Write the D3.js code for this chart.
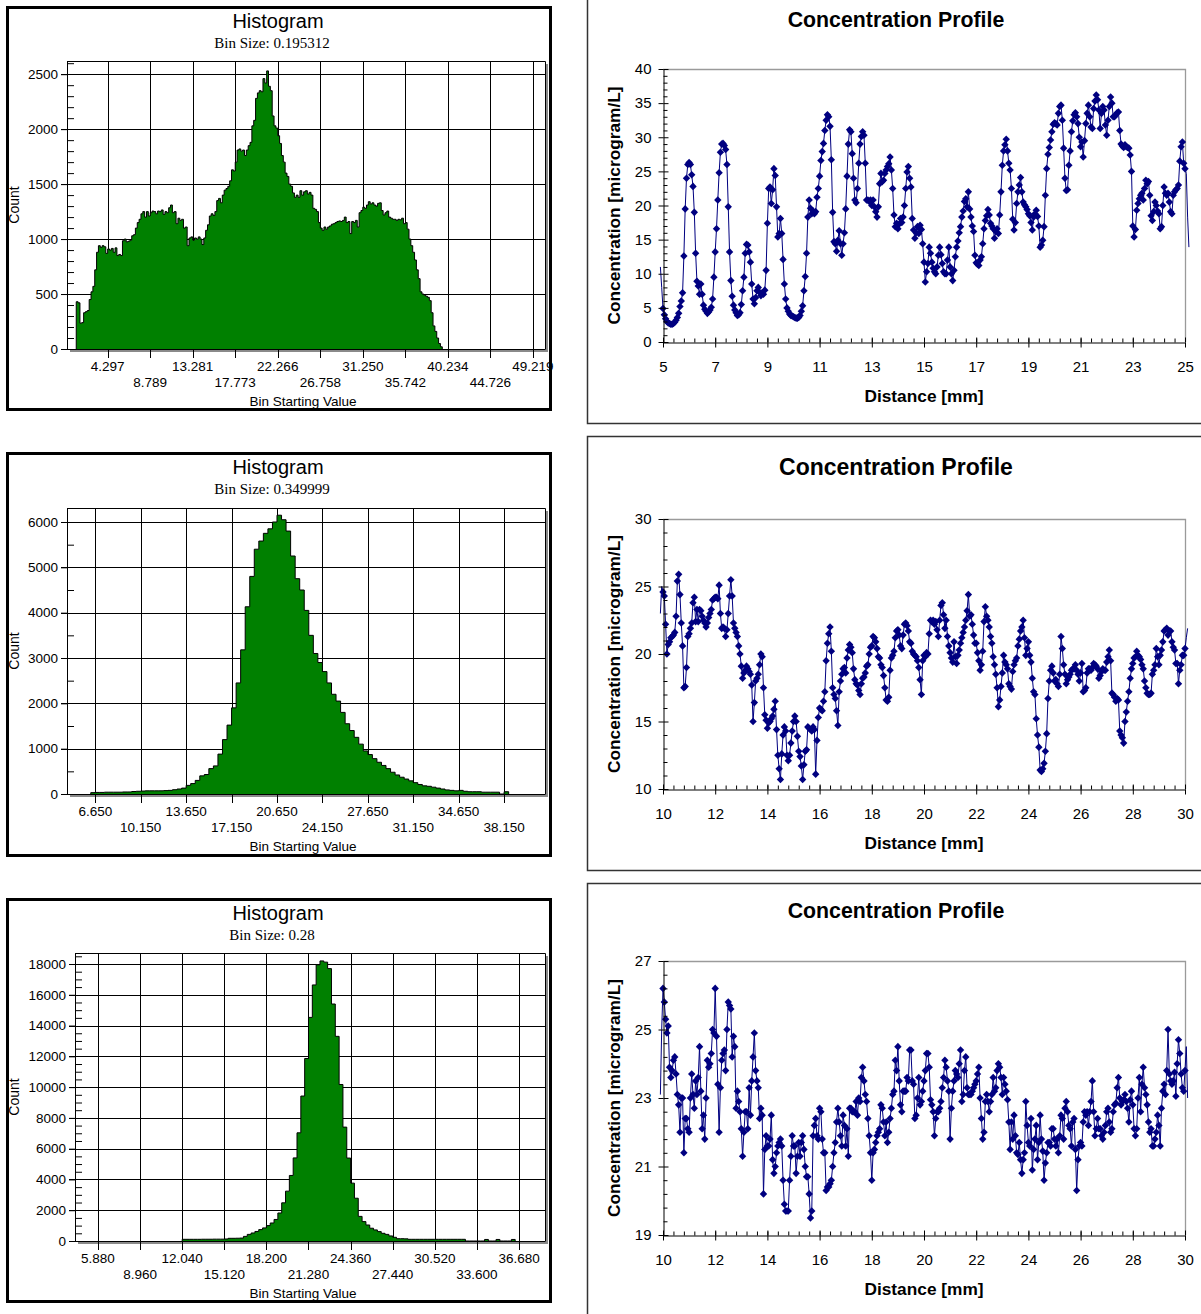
<!DOCTYPE html>
<html>
<head>
<meta charset="utf-8">
<script src="https://cdn.jsdelivr.net/npm/d3@7"></script>
<style>
  body { margin: 0; background: #fff; }
</style>
</head>
<body>
<script>
// ---------------- histogram data ----------------
// counts per bin, first bin index * bin size = first bin start
var hist1BinSize = 0.195312, hist1FirstBin = 5;
var hist1Counts = [
  430, 420, 235, 240, 330, 340, 350, 450, 520, 570,
  720, 880, 940, 925, 940, 930, 870, 910, 900, 915,
  880, 920, 850, 860, 850, 985, 1000, 975, 980, 990,
  1030, 1040, 1100, 1150, 1180, 1230, 1250, 1200, 1250, 1210,
  1240, 1255, 1250, 1230, 1255, 1250, 1265, 1225, 1250, 1240,
  1285, 1310, 1240, 1250, 1140, 1190, 1170, 1180, 1100, 1110,
  940, 1010, 1020, 990, 1010, 1000, 1020, 1000, 950, 1010,
  1080, 1130, 1210, 1230, 1215, 1250, 1350, 1370, 1330, 1400,
  1445, 1460, 1480, 1530, 1630, 1620, 1700, 1810, 1820, 1800,
  1810, 1760, 1810, 1850, 1880, 2030, 2080, 2280, 2330, 2350,
  2340, 2460, 2420, 2530, 2390, 2350, 2120, 2030, 2010, 1940,
  1870, 1760, 1700, 1600, 1570, 1500, 1480, 1420, 1380, 1400,
  1380, 1440, 1400, 1430, 1440, 1410, 1425, 1400, 1280, 1270,
  1250, 1150, 1100, 1080, 1110, 1090, 1110, 1120, 1135, 1140,
  1150, 1160, 1165, 1160, 1170, 1200, 1150, 1160, 1050, 1160,
  1150, 1170, 1110, 1240, 1260, 1290, 1280, 1310, 1340, 1320,
  1330, 1310, 1300, 1325, 1330, 1260, 1220, 1240, 1255, 1200,
  1190, 1180, 1180, 1170, 1180, 1175, 1190, 1140, 1150, 1090,
  1000, 940, 880, 810, 720, 640, 520, 500, 490, 480,
  470, 440, 330, 210, 160, 100, 50, 20
];
var hist1Ticks = ["4.297", "8.789", "13.281", "17.773", "22.266", "26.758", "31.250", "35.742", "40.234", "44.726", "49.219"];

var hist2BinSize = 0.349999, hist2FirstBin = 18;
var hist2Counts = [
  30, 35, 35, 40, 40, 40, 40, 45, 45, 55,
  60, 65, 70, 70, 70, 70, 75, 80, 95, 110,
  130, 190, 230, 300, 400, 430, 560, 620, 880, 1200,
  1520, 1900, 2450, 3180, 4130, 4800, 5400, 5580, 5750, 5850,
  6000, 6150, 6050, 5800, 5250, 4750, 4500, 4050, 3500, 3100,
  2900, 2700, 2450, 2200, 2050, 1800, 1550, 1400, 1250, 1100,
  950, 870, 780, 700, 630, 560, 480, 420, 370, 330,
  290, 250, 210, 180, 170, 150, 130, 110, 90, 80,
  70, 80, 60, 50, 50, 50, 40, 40, 40, 40, 0, 50
];
var hist2Ticks = ["6.650", "10.150", "13.650", "17.150", "20.650", "24.150", "27.650", "31.150", "34.650", "38.150"];

var hist3BinSize = 0.28, hist3FirstBin = 43;
var hist3Counts = [
  110, 110, 110, 110, 110, 115, 115, 115, 120, 120,
  120, 130, 175, 175, 180, 190,
  300, 430, 520, 620, 740, 850, 1000, 1170, 1400, 1820,
  2480, 3240, 4260, 5400, 7030, 9420, 11860, 14530, 16640, 17950,
  18200, 18120, 17700, 15400, 13300, 10170, 7400, 5390, 3760, 2780,
  1600, 1260, 1040, 830, 720, 610, 500, 430, 330, 240,
  150, 150, 140, 110, 110, 110, 110, 110, 110, 110,
  110, 110, 110, 110, 110, 110, 110, 110,
  0, 0, 0, 0, 0, 100, 0, 0, 100, 0, 0, 0, 100
];
var hist3Ticks = ["5.880", "8.960", "12.040", "15.120", "18.200", "21.280", "24.360", "27.440", "30.520", "33.600", "36.680"];

// ---------------- concentration profile data ----------------
// one value every 0.05 mm, first value at profNStart
var profStep = 0.05;
var prof1Start = 4.90;
var prof1Values = [
  11.0, 8.0,
  4.9, 4.0, 3.4, 3.0, 2.8, 2.7, 2.6, 2.6, 2.7, 2.9, 3.2, 3.6, 4.2, 5.2, 6.0, 7.2, 12.6, 19.5, 24.0, 26.0,
  26.3, 26.0, 24.5, 22.8, 19.0, 13.0, 8.9, 8.2, 7.0, 8.5, 7.0, 5.4, 4.8, 4.5, 4.2, 4.4, 4.7, 5.1, 6.3, 9.5,
  13.2, 16.6, 20.8, 24.8, 27.8, 29.0, 29.1, 28.8, 28.2, 26.0, 19.8, 13.2, 9.0, 6.7, 5.4, 4.7, 4.3, 3.9, 4.0, 4.3,
  5.5, 7.5, 9.5, 13.0, 14.3, 14.2, 13.2, 11.7, 8.5, 6.3, 5.6, 6.5, 7.5, 8.0, 7.3, 6.8, 7.2, 7.0, 7.6, 10.5,
  17.4, 22.5, 22.7, 20.3, 22.3, 25.4, 24.4, 19.8, 15.4, 15.9, 18.1, 15.9, 12.1, 8.5, 6.3, 5.0, 4.5, 4.1, 3.9, 3.8,
  3.7, 3.6, 3.5, 3.5, 3.6, 3.9, 4.5, 5.3, 7.5, 9.6, 13.0, 18.3, 20.8, 19.6, 18.8, 19.2, 18.8, 19.1, 21.2, 22.5,
  24.3, 26.6, 27.9, 29.1, 31.0, 32.5, 33.3, 33.0, 31.6, 26.7, 19.0, 14.7, 14.4, 13.3, 14.9, 16.3, 14.4, 12.7, 14.4, 16.0,
  19.5, 24.3, 29.0, 31.1, 30.8, 27.6, 24.0, 20.8, 20.4, 22.5, 26.2, 29.0, 30.1, 30.8, 30.3, 26.2, 20.8, 20.8, 20.6, 20.8,
  20.0, 20.8, 19.8, 19.1, 18.3, 19.8, 23.2, 24.7, 23.5, 23.7, 24.7, 25.2, 25.7, 26.1, 27.1, 25.2, 22.5, 18.6, 16.9, 17.4,
  16.6, 17.3, 18.1, 17.5, 18.3, 20.0, 22.5, 24.9, 25.7, 24.0, 22.7, 18.1, 16.4, 15.2, 16.0, 16.9, 15.9, 17.1, 16.5, 14.4,
  11.7, 8.8, 10.3, 11.5, 13.9, 13.0, 11.7, 10.8, 10.3, 10.0, 11.0, 12.7, 13.9, 12.8, 11.5, 10.3, 10.0, 10.0, 12.0, 13.9,
  11.0, 10.0, 9.0, 10.5, 12.5, 13.9, 14.8, 16.0, 16.9, 18.3, 19.2, 20.6, 21.0, 19.8, 22.0, 19.5, 18.3, 17.0, 16.2, 12.7,
  11.6, 11.4, 11.2, 12.0, 12.5, 14.4, 16.6, 17.8, 18.5, 19.4, 18.6, 17.4, 17.0, 16.6, 15.2, 16.2, 16.6, 15.9, 18.6, 22.0,
  25.9, 28.0, 28.9, 29.7, 28.0, 26.2, 25.2, 22.5, 18.0, 16.4, 17.5, 20.3, 22.0, 23.0, 24.1, 22.0, 20.5, 20.1, 19.8, 19.4,
  18.8, 18.5, 17.5, 16.4, 18.3, 18.8, 19.3, 18.4, 17.0, 13.9, 14.2, 14.9, 16.9, 21.5, 25.4, 27.5, 28.5, 29.6, 30.8, 31.9,
  32.1, 32.0, 31.8, 33.5, 34.5, 34.7, 32.5, 28.4, 24.0, 22.2, 22.3, 25.9, 28.0, 30.8, 32.4, 33.3, 33.6, 33.0, 32.0, 30.0,
  28.6, 29.3, 27.1, 29.5, 32.0, 33.5, 34.7, 33.0, 31.5, 31.3, 34.2, 35.3, 36.2, 35.5, 34.0, 31.3, 33.5, 34.5, 34.0, 31.8,
  30.3, 32.5, 34.5, 35.9, 35.0, 33.0, 33.0, 33.3, 33.6, 33.7, 31.0, 29.0, 28.7, 28.5, 28.9, 28.6, 28.5, 28.4, 27.4, 25.0,
  17.0, 15.4, 16.5, 19.3, 20.3, 21.0, 21.5, 21.8, 20.8, 22.5, 23.7, 23.2, 23.5, 21.5, 18.5, 17.8, 19.1, 20.5, 20.0, 19.2,
  18.8, 16.6, 16.9, 20.0, 22.7, 21.8, 21.5, 21.8, 20.5, 19.1, 18.8, 21.5, 22.0, 22.3, 22.5, 23.0, 26.5, 28.6, 29.3, 26.2,
  25.4, 24.7, 18.3, 13.9
];

var prof2Start = 9.90;
var prof2Values = [
  23.0, 25.0,
  24.6, 24.3, 22.2, 20.0, 20.7, 20.9, 21.2, 21.3, 21.4, 21.6, 22.8, 25.4, 25.9, 24.4, 22.3, 20.6, 17.5, 17.6, 19.0, 21.3,
  21.5, 21.9, 22.3, 23.8, 24.2, 22.4, 23.3, 22.4, 23.3, 23.2, 22.8, 22.5, 22.3, 22.0, 22.3, 22.7, 23.0, 23.3, 24.0, 24.1,
  24.2, 24.2, 24.1, 25.1, 23.0, 21.9, 22.0, 21.9, 21.3, 21.8, 23.0, 24.3, 25.5, 24.3, 22.3, 21.9, 21.6, 21.3, 20.6, 20.0,
  19.1, 18.2, 18.6, 18.8, 19.1, 18.9, 18.7, 18.5, 17.7, 15.0, 16.4, 18.0, 18.2, 18.5, 19.2, 20.0, 19.8, 17.5, 15.5, 15.1,
  14.5, 14.9, 15.0, 15.2, 15.4, 15.9, 16.5, 14.4, 12.5, 11.5, 10.7, 12.6, 14.0, 14.6, 14.3, 12.5, 12.1, 12.5, 13.4, 14.3,
  15.0, 15.4, 15.0, 13.9, 12.8, 12.4, 11.7, 10.7, 11.8, 12.8, 12.9, 14.6, 14.5, 14.4, 14.3, 14.6, 14.4, 11.1, 13.6, 15.3,
  16.0, 15.9, 15.8, 16.5, 17.2, 19.5, 20.8, 21.5, 22.0, 20.2, 17.5, 17.0, 16.7, 15.8, 14.7, 17.2, 18.0, 18.5, 18.9, 19.0,
  18.6, 19.7, 20.3, 20.7, 20.5, 20.1, 18.9, 18.1, 17.8, 17.7, 17.3, 17.0, 17.8, 18.2, 18.3, 18.6, 19.1, 19.2, 20.0, 20.5,
  20.6, 21.3, 21.2, 20.9, 20.4, 19.8, 19.7, 19.2, 19.0, 18.4, 17.5, 16.6, 16.5, 16.8, 18.8, 19.7, 19.9, 20.2, 21.2, 21.7,
  21.8, 21.4, 20.6, 20.4, 21.4, 22.2, 22.3, 22.1, 21.7, 20.9, 20.8, 20.2, 20.0, 19.9, 19.8, 19.5, 19.0, 18.1, 17.0, 19.5,
  19.9, 19.8, 20.1, 20.0, 21.5, 22.5, 22.4, 22.5, 22.2, 22.4, 21.8, 21.3, 22.5, 23.6, 23.8, 22.9, 21.9, 22.5, 21.3, 20.6,
  20.1, 19.7, 19.4, 20.9, 19.8, 19.3, 19.9, 20.3, 20.8, 21.2, 21.6, 22.0, 22.5, 23.2, 24.4, 22.8, 22.9, 22.2, 21.4, 20.8,
  20.8, 20.1, 19.5, 18.8, 19.2, 20.2, 22.4, 23.5, 22.8, 22.5, 22.0, 21.3, 20.8, 19.8, 19.2, 18.5, 17.5, 16.1, 16.6, 17.6,
  18.6, 19.9, 19.4, 19.2, 18.9, 17.8, 17.6, 17.4, 18.7, 19.2, 19.5, 19.7, 20.6, 21.1, 21.7, 22.0, 22.5, 21.2, 19.9, 20.4,
  20.9, 19.9, 19.4, 18.2, 17.2, 17.0, 15.2, 14.0, 13.1, 11.4, 11.3, 11.5, 11.9, 12.8, 14.1, 16.7, 18.0, 18.8, 19.1, 18.6,
  18.0, 18.1, 17.8, 17.6, 18.5, 21.3, 20.4, 19.2, 18.5, 17.8, 18.1, 18.3, 18.5, 18.8, 18.9, 18.9, 19.2, 18.8, 18.5, 18.0,
  18.6, 19.3, 17.2, 17.3, 17.5, 18.6, 18.9, 18.9, 18.8, 19.0, 19.3, 19.2, 19.1, 18.9, 18.2, 18.4, 18.7, 18.9, 18.8, 18.8,
  19.4, 19.8, 20.3, 19.5, 17.1, 17.0, 16.8, 16.5, 16.7, 16.6, 14.3, 14.0, 13.8, 13.4, 15.0, 15.7, 16.5, 17.2, 18.2, 18.9,
  19.3, 19.7, 19.8, 20.2, 19.9, 19.8, 19.6, 19.2, 18.9, 18.0, 17.5, 17.1, 17.0, 17.0, 17.1, 18.5, 18.8, 19.2, 20.4, 19.8,
  19.2, 19.9, 20.3, 20.9, 21.7, 21.8, 21.9, 21.4, 21.7, 21.7, 20.9, 20.5, 20.3, 19.3, 19.3, 17.8, 18.8, 19.2, 19.9, 19.9,
  20.4, 21.2, 21.9
];

var prof3Start = 9.90;
var prof3Values = [
  23.1, 25.0,
  26.2, 25.8, 25.3, 24.9, 25.1, 23.9, 23.6, 23.8, 24.1, 24.2, 23.7, 23.1, 22.8, 22.0, 23.0, 23.0, 21.4, 22.4, 22.4, 22.1,
  22.0, 23.0, 23.7, 23.1, 22.7, 23.5, 23.1, 23.6, 24.5, 23.2, 22.1, 22.5, 21.8, 23.0, 24.1, 23.9, 24.0, 24.3, 25.0, 24.9,
  26.2, 24.8, 23.4, 22.0, 23.3, 24.1, 24.3, 24.4, 23.8, 25.0, 25.8, 25.7, 25.6, 24.2, 24.8, 24.5, 22.7, 23.2, 22.9, 22.6,
  22.1, 21.3, 22.0, 22.6, 22.6, 22.1, 23.3, 22.5, 23.5, 24.2, 24.9, 23.8, 23.5, 23.3, 22.4, 22.7, 22.5, 20.2, 21.5, 21.9,
  21.6, 21.6, 21.8, 22.5, 21.2, 20.8, 21.0, 21.4, 21.6, 21.7, 21.8, 21.6, 20.6, 19.9, 19.7, 19.7, 19.7, 20.6, 21.3, 21.9,
  21.6, 21.6, 20.8, 21.3, 21.7, 21.3, 21.7, 21.9, 21.5, 21.0, 20.7, 20.7, 20.2, 19.5, 19.7, 21.9, 22.2, 22.4, 21.9, 21.8,
  22.7, 22.6, 21.8, 21.4, 21.4, 20.3, 20.4, 20.4, 20.5, 20.6, 21.0, 21.4, 21.7, 22.3, 22.7, 22.3, 21.9, 21.6, 22.5, 22.2,
  21.6, 22.1, 21.3, 22.7, 22.7, 22.6, 22.6, 22.6, 22.9, 22.5, 23.0, 22.9, 23.6, 23.9, 23.5, 23.1, 22.9, 22.4, 21.9, 21.4,
  20.6, 21.4, 21.5, 21.7, 21.9, 22.0, 22.1, 22.8, 22.7, 22.3, 21.9, 22.3, 21.7, 22.0, 22.4, 22.7, 23.1, 23.2, 24.1, 23.8,
  24.5, 23.5, 22.8, 22.6, 23.2, 23.2, 23.2, 23.6, 23.5, 24.4, 24.4, 23.5, 23.4, 22.4, 22.5, 23.0, 23.6, 22.8, 22.9, 23.2,
  23.5, 23.8, 24.3, 24.3, 23.9, 22.95, 22.8, 22.6, 21.9, 22.4, 22.6, 22.6, 22.7, 22.9, 23.3, 23.6, 24.1, 23.9, 23.5, 23.2,
  21.8, 22.7, 23.2, 23.5, 23.8, 23.7, 23.6, 24.0, 24.4, 22.9, 23.1, 23.8, 24.2, 23.3, 23.1, 23.1, 23.1, 23.2, 23.3, 23.4,
  23.5, 23.7, 23.9, 23.0, 22.4, 21.8, 22.0, 22.9, 23.1, 22.9, 22.6, 22.9, 23.1, 23.6, 23.2, 23.3, 23.8, 24.0, 23.9, 23.6,
  23.1, 23.6, 23.4, 23.2, 22.95, 22.3, 21.5, 22.3, 21.8, 22.5, 21.9, 21.4, 21.35, 21.7, 21.2, 20.8, 21.2, 21.4, 22.9, 22.2,
  21.7, 21.6, 22.4, 20.9, 21.5, 21.8, 22.2, 21.2, 21.7, 22.5, 21.8, 21.45, 20.6, 21.1, 21.4, 21.7, 21.7, 21.6, 22.1, 22.1,
  21.8, 21.6, 21.8, 21.4, 21.9, 22.5, 22.4, 21.8, 22.7, 22.9, 22.6, 22.2, 22.1, 21.6, 22.3, 22.4, 21.5, 20.3, 21.2, 21.6,
  21.7, 21.6, 22.3, 22.6, 22.5, 22.6, 22.2, 22.6, 22.9, 23.5, 22.6, 21.9, 22.1, 22.4, 22.1, 22.1, 21.9, 21.8, 22.0, 22.2,
  22.6, 22.7, 22.3, 22.0, 22.1, 22.6, 22.8, 22.85, 23.3, 23.6, 23.0, 22.8, 22.9, 22.95, 23.1, 22.9, 22.7, 22.3, 22.95, 23.2,
  22.8, 22.1, 21.9, 22.1, 23.0, 23.6, 22.6, 23.4, 23.9, 23.3, 23.1, 22.8, 22.3, 22.0, 22.1, 21.6, 21.6, 21.8, 22.0, 22.5,
  22.2, 21.6, 22.7, 23.2, 23.4, 23.1, 23.8, 25.0, 23.7, 23.5, 23.4, 23.5, 23.75, 23.05, 24.0, 24.7, 24.3, 23.7, 23.3, 23.2,
  23.8, 24.5, 23.0
];

var sans = '"Liberation Sans", Arial, sans-serif';
var serif = '"Liberation Serif", "Times New Roman", serif';

var svg = d3.select("body").append("svg")
    .attr("width", 1201)
    .attr("height", 1314);

var clipCount = 0;

// ---------------- histogram panel ----------------
function drawHistogram(o) {
  var g = svg.append("g");
  var x = d3.scaleLinear().domain(o.xDomain).range([o.left, o.right]);
  var y = d3.scaleLinear().domain(o.yDomain).range([o.bottom, o.top]);

  g.append("rect")
    .attr("x", 7.5).attr("y", o.frameTop + 0.5)
    .attr("width", 543).attr("height", 402)
    .attr("fill", "#fff");

  // grey drop shadow + white plot area
  g.append("rect")
    .attr("x", o.left + 3).attr("y", o.top + 3)
    .attr("width", o.right - o.left).attr("height", o.bottom - o.top)
    .attr("fill", "#8a8a8a");
  g.append("rect")
    .attr("x", o.left).attr("y", o.top)
    .attr("width", o.right - o.left).attr("height", o.bottom - o.top)
    .attr("fill", "#fff");

  var tickVals = o.ticks.map(function(t) { return +t; });

  // grid
  g.selectAll(".hgrid").data(o.yTicks.slice(1)).enter().append("line")
    .attr("x1", o.left - 6).attr("x2", o.right)
    .attr("y1", function(d) { return Math.round(y(d)) + 0.5; })
    .attr("y2", function(d) { return Math.round(y(d)) + 0.5; })
    .attr("stroke", "#000");
  g.selectAll(".vgrid").data(tickVals).enter().append("line")
    .attr("x1", function(d) { return Math.round(x(d)) + 0.5; })
    .attr("x2", function(d) { return Math.round(x(d)) + 0.5; })
    .attr("y1", o.top).attr("y2", o.bottom + 9)
    .attr("stroke", "#000");

  // bins -> step outline
  var pts = [{v: o.firstBin * o.binSize, c: 0}];
  o.counts.forEach(function(c, i) {
    pts.push({v: (o.firstBin + i) * o.binSize, c: c});
  });
  var endV = (o.firstBin + o.counts.length) * o.binSize;
  pts.push({v: endV, c: o.counts[o.counts.length - 1]});
  pts.push({v: endV, c: 0});

  var area = d3.area().curve(d3.curveStepAfter)
    .x(function(d) { return x(d.v); })
    .y0(y(0))
    .y1(function(d) { return y(d.c); });
  var line = d3.line().curve(d3.curveStepAfter)
    .x(function(d) { return x(d.v); })
    .y(function(d) { return y(d.c); });

  g.append("path").datum(pts).attr("d", area).attr("fill", "#008000");
  g.append("path").datum(pts).attr("d", line)
    .attr("fill", "none").attr("stroke", "#000").attr("stroke-width", 1);

  // plot border top / right
  g.append("path")
    .attr("d", "M" + o.left + "," + (o.top + 0.5) + "H" + (o.right + 0.5) + "V" + o.bottom)
    .attr("fill", "none").attr("stroke", "#000");

  // y axis
  var ya = g.append("g").attr("transform", "translate(" + o.left + ",0)")
    .call(d3.axisLeft(y).tickValues(o.yTicks).tickSize(6).tickPadding(3)
      .tickSizeOuter(0).tickFormat(d3.format("d")));
  ya.selectAll("text").attr("font-size", 13.5).attr("font-family", sans).attr("fill", "#000");
  var minor = d3.range(o.minorStep, o.yDomain[1], o.minorStep)
    .filter(function(d) { return o.yTicks.indexOf(d) < 0; });
  g.append("g").attr("transform", "translate(" + o.left + ",0)")
    .call(d3.axisRight(y).tickValues(minor).tickSize(7).tickFormat("").tickSizeOuter(0))
    .select(".domain").remove();

  // x axis line
  g.append("line")
    .attr("x1", o.left).attr("x2", o.right + 0.5)
    .attr("y1", o.bottom + 0.5).attr("y2", o.bottom + 0.5)
    .attr("stroke", "#000");

  // two rows of x labels
  g.selectAll(".xl").data(o.ticks).enter().append("text")
    .attr("x", function(d) { return x(+d); })
    .attr("y", function(d, i) { return o.bottom + (i % 2 ? 38 : 22); })
    .attr("text-anchor", "middle")
    .attr("font-family", sans).attr("font-size", 13.5)
    .text(function(d) { return d; });

  g.append("text")
    .attr("x", 303).attr("y", o.bottom + 56.5)
    .attr("text-anchor", "middle")
    .attr("font-family", sans).attr("font-size", 13.5)
    .text("Bin Starting Value");

  g.append("text")
    .attr("transform", "translate(19," + ((o.top + o.bottom) / 2) + ") rotate(-90)")
    .attr("text-anchor", "middle")
    .attr("font-family", sans).attr("font-size", 14)
    .text("Count");

  g.append("text")
    .attr("x", 278).attr("y", o.frameTop + 21)
    .attr("text-anchor", "middle")
    .attr("font-family", sans).attr("font-size", 20)
    .text("Histogram");
  g.append("text")
    .attr("x", 272).attr("y", o.frameTop + 41)
    .attr("text-anchor", "middle")
    .attr("font-family", serif).attr("font-size", 15)
    .text(o.binLabel);

  // thick outer frame, drawn last so it trims the last label
  g.append("rect")
    .attr("x", 7.5).attr("y", o.frameTop + 0.5)
    .attr("width", 543).attr("height", 402)
    .attr("fill", "none").attr("stroke", "#000").attr("stroke-width", 3);
}

// ---------------- concentration profile panel ----------------
function drawProfile(o) {
  var g = svg.append("g");
  var x = d3.scaleLinear().domain(o.xDomain).range([663, 1185]);
  var y = d3.scaleLinear().domain(o.yDomain).range([o.bottom, o.top]);

  // panel frame, right side runs off the page
  g.append("rect")
    .attr("x", 587.5).attr("y", o.frameTop + 0.5)
    .attr("width", 700).attr("height", o.frameBottom - o.frameTop)
    .attr("fill", "#fff").attr("stroke", "#333").attr("stroke-width", 1.5);

  // grey plot border (top, right)
  g.append("path")
    .attr("d", "M663," + (o.top + 0.5) + "H1185.5V" + o.bottom)
    .attr("fill", "none").attr("stroke", "#9a9a9a").attr("stroke-width", 1.3);

  var pts = o.values.map(function(v, i) {
    return {d: o.start + i * profStep, c: v};
  });

  var id = "clip" + (clipCount++);
  svg.append("clipPath").attr("id", id).append("rect")
    .attr("x", 659).attr("y", o.top - 4)
    .attr("width", 532).attr("height", o.bottom - o.top + 6);

  var line = d3.line()
    .x(function(d) { return x(d.d); })
    .y(function(d) { return y(d.c); });

  g.append("path").datum(pts)
    .attr("clip-path", "url(#" + id + ")")
    .attr("d", line)
    .attr("fill", "none").attr("stroke", "#000080").attr("stroke-width", 1);

  var inside = pts.filter(function(d) {
    return d.d > o.xDomain[0] - 1e-6 && d.d < o.xDomain[1] + 1e-6;
  });
  g.selectAll(".mk").data(inside).enter().append("path")
    .attr("transform", function(d) { return "translate(" + x(d.d) + "," + y(d.c) + ")"; })
    .attr("d", "M0,-3.8L3.7,0L0,3.8L-3.7,0Z")
    .attr("fill", "#000080");

  // y axis: major ticks cross, minor ticks inside
  var ya = g.append("g").attr("transform", "translate(663.5,0)")
    .call(d3.axisLeft(y).tickValues(o.yTicks).tickSize(5).tickPadding(7).tickSizeOuter(0));
  ya.selectAll("text").attr("font-size", 15).attr("font-family", sans).attr("fill", "#000");
  g.append("g").attr("transform", "translate(663.5,0)")
    .call(d3.axisRight(y).tickValues(o.yTicks).tickSize(5).tickFormat(""))
    .select(".domain").remove();
  var yMinor = d3.range(o.yDomain[0], o.yDomain[1], o.yMinor)
    .filter(function(d) { return o.yTicks.indexOf(Math.round(d * 100) / 100) < 0; });
  g.append("g").attr("transform", "translate(663.5,0)")
    .call(d3.axisRight(y).tickValues(yMinor).tickSize(4).tickFormat(""))
    .select(".domain").remove();

  // x axis
  var xa = g.append("g").attr("transform", "translate(0," + (o.bottom + 0.5) + ")")
    .call(d3.axisBottom(x).tickValues(o.xTicks).tickSize(5).tickPadding(14).tickSizeOuter(0));
  xa.selectAll("text").attr("font-size", 15).attr("font-family", sans).attr("fill", "#000");
  g.append("g").attr("transform", "translate(0," + (o.bottom + 0.5) + ")")
    .call(d3.axisTop(x).tickValues(o.xTicks).tickSize(5).tickFormat(""))
    .select(".domain").remove();
  var xMinor = d3.range(o.xDomain[0], o.xDomain[1], 0.4);
  g.append("g").attr("transform", "translate(0," + (o.bottom + 0.5) + ")")
    .call(d3.axisTop(x).tickValues(xMinor).tickSize(4).tickFormat(""))
    .select(".domain").remove();

  g.append("text")
    .attr("x", 896).attr("y", o.titleY)
    .attr("text-anchor", "middle")
    .attr("font-family", sans).attr("font-weight", "bold").attr("font-size", o.titleSize)
    .text("Concentration Profile");

  g.append("text")
    .attr("x", 924).attr("y", o.bottom + 60)
    .attr("text-anchor", "middle")
    .attr("font-family", sans).attr("font-weight", "bold").attr("font-size", 17.3)
    .text("Distance [mm]");

  g.append("text")
    .attr("transform", "translate(620," + ((o.top + o.bottom) / 2) + ") rotate(-90)")
    .attr("text-anchor", "middle")
    .attr("font-family", sans).attr("font-weight", "bold").attr("font-size", 17.3)
    .text("Concentration [microgram/L]");
}

drawHistogram({
  frameTop: 7, left: 67, right: 545, top: 61, bottom: 349,
  xDomain: [0, 50.5], yDomain: [0, 2620],
  yTicks: [0, 500, 1000, 1500, 2000, 2500], minorStep: 100,
  ticks: hist1Ticks, counts: hist1Counts,
  binSize: hist1BinSize, firstBin: hist1FirstBin,
  binLabel: "Bin Size: 0.195312"
});
drawHistogram({
  frameTop: 453, left: 67, right: 545, top: 508, bottom: 794,
  xDomain: [4.47, 41.3], yDomain: [0, 6309],
  yTicks: [0, 1000, 2000, 3000, 4000, 5000, 6000], minorStep: 500,
  ticks: hist2Ticks, counts: hist2Counts,
  binSize: hist2BinSize, firstBin: hist2FirstBin,
  binLabel: "Bin Size: 0.349999"
});
drawHistogram({
  frameTop: 899, left: 75, right: 545, top: 953, bottom: 1241,
  xDomain: [4.2, 38.58], yDomain: [0, 18715],
  yTicks: [0, 2000, 4000, 6000, 8000, 10000, 12000, 14000, 16000, 18000], minorStep: 500,
  ticks: hist3Ticks, counts: hist3Counts,
  binSize: hist3BinSize, firstBin: hist3FirstBin,
  binLabel: "Bin Size: 0.28"
});

drawProfile({
  frameTop: -10, frameBottom: 423, top: 69, bottom: 342,
  xDomain: [5, 25], xTicks: [5, 7, 9, 11, 13, 15, 17, 19, 21, 23, 25],
  yDomain: [0, 40], yTicks: [0, 5, 10, 15, 20, 25, 30, 35, 40], yMinor: 1,
  start: prof1Start, values: prof1Values,
  titleY: 27, titleSize: 21.3
});
drawProfile({
  frameTop: 436, frameBottom: 870, top: 519, bottom: 789,
  xDomain: [10, 30], xTicks: [10, 12, 14, 16, 18, 20, 22, 24, 26, 28, 30],
  yDomain: [10, 30], yTicks: [10, 15, 20, 25, 30], yMinor: 1,
  start: prof2Start, values: prof2Values,
  titleY: 475, titleSize: 23
});
drawProfile({
  frameTop: 883, frameBottom: 1400, top: 961, bottom: 1235,
  xDomain: [10, 30], xTicks: [10, 12, 14, 16, 18, 20, 22, 24, 26, 28, 30],
  yDomain: [19, 27], yTicks: [19, 21, 23, 25, 27], yMinor: 0.4,
  start: prof3Start, values: prof3Values,
  titleY: 918, titleSize: 21.3
});
</script>
</body>
</html>
